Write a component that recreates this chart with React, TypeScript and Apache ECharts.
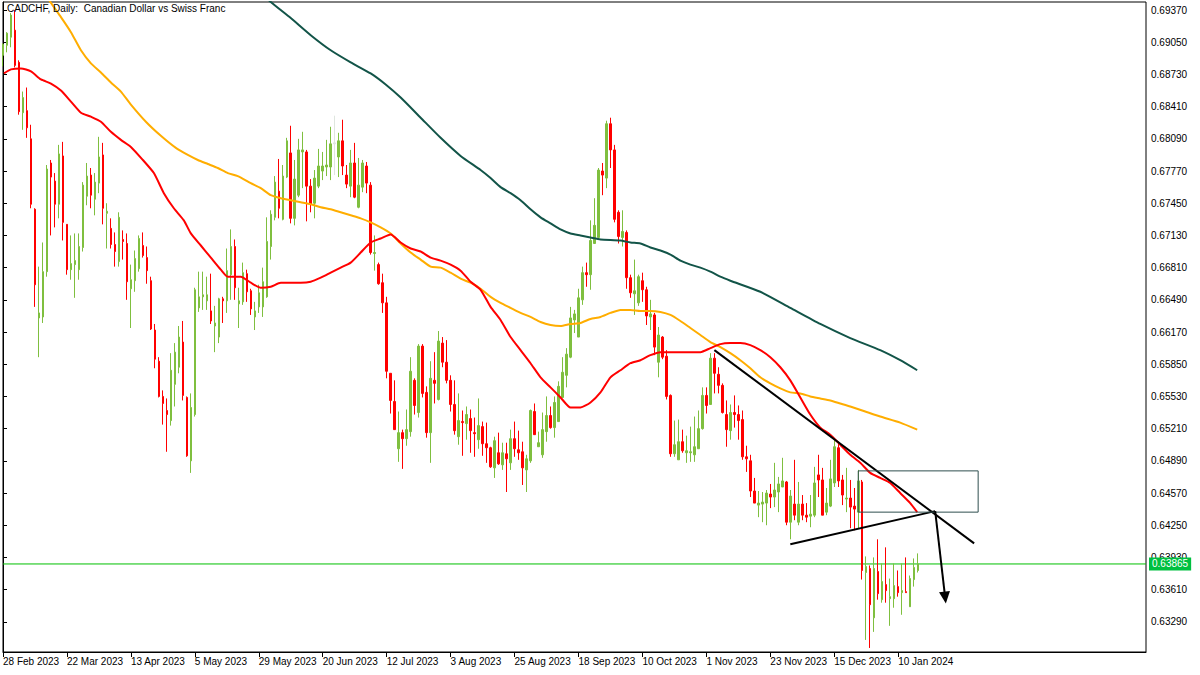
import React, { useEffect, useRef } from 'react';
import * as echarts from 'echarts';

const chartTitle = 'CADCHF, Daily:  Canadian Dollar vs Swiss Franc';
const MONTHS = ['Jan', 'Feb', 'Mar', 'Apr', 'May', 'Jun', 'Jul', 'Aug', 'Sep', 'Oct', 'Nov', 'Dec'];
const N_SLOTS = 287; // bars + empty space on the right
const CLOSED_DAYS = ['2023-12-25', '2024-01-01'];
const LABEL_STEP = 16;
const LAST_LABEL_INDEX = 224;

const priceTicks = [0.6937, 0.6905, 0.6873, 0.6841, 0.6809, 0.6777, 0.6745, 0.6713, 0.6681, 0.6649,
  0.6617, 0.6585, 0.6553, 0.6521, 0.6489, 0.6457, 0.6425, 0.6393, 0.6361, 0.6329];

const opens = [
  0.6892, 0.6902, 0.6910, 0.6917, 0.6885, 0.6835, 0.6837, 0.6809, 0.6739, 0.6631,
  0.6632, 0.6677, 0.6785, 0.6767, 0.6744, 0.6792, 0.6724, 0.6679, 0.6684, 0.6679,
  0.6701, 0.6752, 0.6773, 0.6749, 0.6765, 0.6793, 0.6735, 0.6720, 0.6704, 0.6687,
  0.6709, 0.6705, 0.6660, 0.6668, 0.6680, 0.6703, 0.6691, 0.6668, 0.6619, 0.6588,
  0.6553, 0.6539, 0.6529, 0.6565, 0.6582, 0.6607, 0.6552, 0.6489, 0.6535, 0.6641,
  0.6652, 0.6648, 0.6638, 0.6623, 0.6612, 0.6650, 0.6648, 0.6674, 0.6702, 0.6645,
  0.6647, 0.6675, 0.6658, 0.6632, 0.6642, 0.6642, 0.6652, 0.6702, 0.6731, 0.6757,
  0.6729, 0.6771, 0.6795, 0.6730, 0.6753, 0.6796, 0.6796, 0.6762, 0.6745, 0.6762,
  0.6777, 0.6781, 0.6781, 0.6804, 0.6791, 0.6807, 0.6773, 0.6762, 0.6785, 0.6741,
  0.6761, 0.6782, 0.6763, 0.6695, 0.6684, 0.6666, 0.6646, 0.6576, 0.6548, 0.6501,
  0.6517, 0.6511, 0.6518, 0.6569, 0.6537, 0.6603, 0.6557, 0.6517, 0.6569, 0.6550,
  0.6606, 0.6587, 0.6569, 0.6545, 0.6513, 0.6528, 0.6526, 0.6531, 0.6517, 0.6510,
  0.6523, 0.6506, 0.6502, 0.6482, 0.6497, 0.6485, 0.6496, 0.6487, 0.6511, 0.6500,
  0.6498, 0.6480, 0.6489, 0.6538, 0.6503, 0.6495, 0.6518, 0.6534, 0.6522, 0.6528,
  0.6552, 0.6574, 0.6592, 0.6629, 0.6612, 0.6649, 0.6676, 0.6674, 0.6705, 0.6711,
  0.6777, 0.6770, 0.6824, 0.6798, 0.6736, 0.6711, 0.6716, 0.6671, 0.6655, 0.6646,
  0.6668, 0.6659, 0.6632, 0.6634, 0.6587, 0.6612, 0.6593, 0.6554, 0.6496, 0.6490,
  0.6508, 0.6497, 0.6497, 0.6495, 0.6501, 0.6521, 0.6554, 0.6545, 0.6591, 0.6575,
  0.6564, 0.6535, 0.6519, 0.6537, 0.6535, 0.6530, 0.6493, 0.6489, 0.6459, 0.6445,
  0.6446, 0.6447, 0.6456, 0.6453, 0.6458, 0.6463, 0.6468, 0.6428, 0.6446, 0.6428,
  0.6446, 0.6435, 0.6434, 0.6435, 0.6475, 0.6470, 0.6438, 0.6444, 0.6467, 0.6502,
  0.6470, 0.6451, 0.6452, 0.6444, 0.6438, 0.6468, 0.6378, 0.6382, 0.6333, 0.6379,
  0.6351, 0.6366, 0.6352, 0.6352, 0.6364, 0.6358, 0.6359, 0.6344, 0.6371, 0.6380
];

const closes = [
  0.6903, 0.6914, 0.6932, 0.6882, 0.6836, 0.6850, 0.6820, 0.6744, 0.6664, 0.6636,
  0.6677, 0.6779, 0.6771, 0.6744, 0.6794, 0.6726, 0.6679, 0.6685, 0.6688, 0.6702,
  0.6763, 0.6772, 0.6753, 0.6766, 0.6791, 0.6740, 0.6737, 0.6704, 0.6697, 0.6731,
  0.6707, 0.6667, 0.6669, 0.6690, 0.6710, 0.6693, 0.6678, 0.6620, 0.6590, 0.6553,
  0.6546, 0.6535, 0.6579, 0.6597, 0.6612, 0.6554, 0.6494, 0.6542, 0.6659, 0.6652,
  0.6654, 0.6654, 0.6628, 0.6626, 0.6650, 0.6648, 0.6678, 0.6702, 0.6661, 0.6648,
  0.6676, 0.6657, 0.6640, 0.6638, 0.6656, 0.6667, 0.6707, 0.6734, 0.6766, 0.6740,
  0.6772, 0.6807, 0.6730, 0.6769, 0.6798, 0.6798, 0.6762, 0.6744, 0.6770, 0.6782,
  0.6782, 0.6783, 0.6804, 0.6805, 0.6807, 0.6782, 0.6764, 0.6785, 0.6751, 0.6763,
  0.6785, 0.6765, 0.6696, 0.6696, 0.6665, 0.6646, 0.6578, 0.6549, 0.6520, 0.6517,
  0.6511, 0.6520, 0.6578, 0.6544, 0.6603, 0.6556, 0.6517, 0.6571, 0.6566, 0.6608,
  0.6587, 0.6569, 0.6545, 0.6519, 0.6529, 0.6527, 0.6535, 0.6519, 0.6516, 0.6524,
  0.6506, 0.6502, 0.6483, 0.6509, 0.6486, 0.6497, 0.6491, 0.6511, 0.6501, 0.6497,
  0.6482, 0.6491, 0.6539, 0.6515, 0.6507, 0.6520, 0.6534, 0.6522, 0.6547, 0.6563,
  0.6577, 0.6595, 0.6631, 0.6635, 0.6651, 0.6676, 0.6674, 0.6708, 0.6723, 0.6778,
  0.6773, 0.6824, 0.6798, 0.6729, 0.6712, 0.6717, 0.6671, 0.6656, 0.6658, 0.6672,
  0.6659, 0.6633, 0.6635, 0.6602, 0.6614, 0.6592, 0.6553, 0.6496, 0.6505, 0.6508,
  0.6499, 0.6499, 0.6498, 0.6503, 0.6521, 0.6554, 0.6544, 0.6591, 0.6576, 0.6564,
  0.6537, 0.6520, 0.6537, 0.6535, 0.6529, 0.6493, 0.6491, 0.6459, 0.6447, 0.6447,
  0.6448, 0.6457, 0.6453, 0.6460, 0.6466, 0.6469, 0.6428, 0.6454, 0.6435, 0.6446,
  0.6435, 0.6433, 0.6436, 0.6467, 0.6470, 0.6435, 0.6447, 0.6471, 0.6503, 0.6469,
  0.6455, 0.6452, 0.6443, 0.6441, 0.6469, 0.6380, 0.6384, 0.6346, 0.6382, 0.6357,
  0.6369, 0.6360, 0.6354, 0.6365, 0.6358, 0.6360, 0.6358, 0.6372, 0.6383, 0.63865
];

const highs = [
  0.6904, 0.6915, 0.6934, 0.6937, 0.6887, 0.6856, 0.6860, 0.6823, 0.6740, 0.6682,
  0.6706, 0.6783, 0.6788, 0.6775, 0.6803, 0.6806, 0.6724, 0.6713, 0.6715, 0.6715,
  0.6766, 0.6785, 0.6780, 0.6775, 0.6811, 0.6805, 0.6745, 0.6730, 0.6716, 0.6736,
  0.6718, 0.6715, 0.6684, 0.6698, 0.6713, 0.6716, 0.6702, 0.6672, 0.6625, 0.6592,
  0.6559, 0.6551, 0.6596, 0.6606, 0.6623, 0.6628, 0.6553, 0.6556, 0.6661, 0.6677,
  0.6677, 0.6672, 0.6675, 0.6643, 0.6651, 0.6652, 0.6700, 0.6719, 0.6709, 0.6661,
  0.6686, 0.6679, 0.6660, 0.6647, 0.6664, 0.6681, 0.6731, 0.6738, 0.6772, 0.6789,
  0.6783, 0.6810, 0.6822, 0.6788, 0.6809, 0.6816, 0.6798, 0.6769, 0.6778, 0.6799,
  0.6796, 0.6808, 0.6821, 0.6832, 0.6815, 0.6828, 0.6783, 0.6798, 0.6805, 0.6790,
  0.6788, 0.6786, 0.6766, 0.6713, 0.6686, 0.6675, 0.6652, 0.6576, 0.6569, 0.6538,
  0.6520, 0.6540, 0.6592, 0.6571, 0.6605, 0.6605, 0.6563, 0.6588, 0.6597, 0.6618,
  0.6612, 0.6609, 0.6574, 0.6569, 0.6556, 0.6539, 0.6543, 0.6540, 0.6532, 0.6551,
  0.6528, 0.6527, 0.6503, 0.6513, 0.6517, 0.6507, 0.6507, 0.6520, 0.6528, 0.6519,
  0.6508, 0.6495, 0.6540, 0.6546, 0.6518, 0.6537, 0.6553, 0.6543, 0.6553, 0.6568,
  0.6592, 0.6601, 0.6642, 0.6639, 0.6660, 0.6682, 0.6686, 0.6728, 0.6750, 0.6780,
  0.6785, 0.6827, 0.6830, 0.6803, 0.6738, 0.6738, 0.6718, 0.6674, 0.6689, 0.6674,
  0.6676, 0.6662, 0.6649, 0.6636, 0.6622, 0.6613, 0.6599, 0.6555, 0.6529, 0.6530,
  0.6520, 0.6514, 0.6523, 0.6533, 0.6539, 0.6562, 0.6562, 0.6596, 0.6596, 0.6582,
  0.6566, 0.6549, 0.6545, 0.6554, 0.6544, 0.6539, 0.6504, 0.6495, 0.6472, 0.6459,
  0.6458, 0.6460, 0.6466, 0.6487, 0.6473, 0.6492, 0.6469, 0.6460, 0.6490, 0.6468,
  0.6455, 0.6447, 0.6455, 0.6483, 0.6495, 0.6482, 0.6462, 0.6490, 0.6510, 0.6508,
  0.6475, 0.6482, 0.6470, 0.6462, 0.6480, 0.6470, 0.6394, 0.6385, 0.6393, 0.6411,
  0.6387, 0.6403, 0.6372, 0.6387, 0.6380, 0.6387, 0.6393, 0.6375, 0.6392, 0.6397
];

const lows = [
  0.6881, 0.6895, 0.6900, 0.6880, 0.6833, 0.6818, 0.6810, 0.6740, 0.6642, 0.6592,
  0.6626, 0.6672, 0.6713, 0.6721, 0.6730, 0.6708, 0.6674, 0.6669, 0.6651, 0.6669,
  0.6697, 0.6743, 0.6740, 0.6733, 0.6755, 0.6724, 0.6700, 0.6700, 0.6682, 0.6682,
  0.6689, 0.6649, 0.6621, 0.6657, 0.6677, 0.6691, 0.6665, 0.6619, 0.6581, 0.6552,
  0.6525, 0.6498, 0.6524, 0.6543, 0.6576, 0.6549, 0.6493, 0.6477, 0.6533, 0.6637,
  0.6639, 0.6639, 0.6625, 0.6597, 0.6606, 0.6626, 0.6636, 0.6649, 0.6649, 0.6621,
  0.6644, 0.6647, 0.6634, 0.6619, 0.6636, 0.6632, 0.6651, 0.6689, 0.6728, 0.6730,
  0.6728, 0.6770, 0.6725, 0.6723, 0.6751, 0.6760, 0.6727, 0.6736, 0.6730, 0.6760,
  0.6768, 0.6772, 0.6768, 0.6773, 0.6771, 0.6773, 0.6760, 0.6751, 0.6750, 0.6740,
  0.6756, 0.6755, 0.6694, 0.6678, 0.6664, 0.6636, 0.6571, 0.6536, 0.6520, 0.6488,
  0.6481, 0.6504, 0.6513, 0.6535, 0.6532, 0.6552, 0.6512, 0.6487, 0.6546, 0.6549,
  0.6582, 0.6566, 0.6538, 0.6515, 0.6505, 0.6494, 0.6510, 0.6497, 0.6493, 0.6501,
  0.6494, 0.6487, 0.6482, 0.6472, 0.6485, 0.6480, 0.6458, 0.6480, 0.6493, 0.6490,
  0.6465, 0.6458, 0.6487, 0.6515, 0.6503, 0.6492, 0.6508, 0.6521, 0.6512, 0.6528,
  0.6552, 0.6562, 0.6591, 0.6616, 0.6612, 0.6644, 0.6662, 0.6659, 0.6705, 0.6710,
  0.6753, 0.6760, 0.6780, 0.6726, 0.6705, 0.6702, 0.6660, 0.6651, 0.6634, 0.6643,
  0.6647, 0.6624, 0.6619, 0.6594, 0.6572, 0.6590, 0.6550, 0.6493, 0.6493, 0.6490,
  0.6497, 0.6487, 0.6488, 0.6488, 0.6501, 0.6520, 0.6536, 0.6545, 0.6556, 0.6556,
  0.6536, 0.6503, 0.6510, 0.6522, 0.6510, 0.6490, 0.6478, 0.6453, 0.6447, 0.6433,
  0.6428, 0.6425, 0.6442, 0.6443, 0.6438, 0.6463, 0.6425, 0.6411, 0.6430, 0.6425,
  0.6430, 0.6428, 0.6423, 0.6433, 0.6453, 0.6435, 0.6435, 0.6443, 0.6463, 0.6463,
  0.6445, 0.6438, 0.6422, 0.6420, 0.6422, 0.6371, 0.6311, 0.6303, 0.6319, 0.6351,
  0.6348, 0.6348, 0.6325, 0.6343, 0.6354, 0.6336, 0.6358, 0.6344, 0.6364, 0.6378
];

const paleBarIndex = 83;

// moving averages: [bar index, price]
const maRed: [number, number][] = [
  [0.25, 0.6874], [2, 0.6878], [4.5, 0.6879], [7, 0.6876], [9.5, 0.6868], [12, 0.6864], [14.5, 0.6857],
  [17, 0.6846], [19.5, 0.6835], [22, 0.6831], [24.5, 0.6826], [27, 0.6816], [29.5, 0.6808], [32, 0.6801],
  [35, 0.6788], [37.75, 0.6775], [40.25, 0.6755], [42.75, 0.6740], [45.25, 0.6728], [47, 0.6715],
  [49.5, 0.6703], [52, 0.6691], [54.5, 0.6679], [56.25, 0.6672], [59.5, 0.6672], [62, 0.6666],
  [64.5, 0.6661], [67, 0.6662], [69.5, 0.6666], [74.5, 0.6666], [77, 0.6667], [79.5, 0.6671],
  [82, 0.6676], [84.5, 0.6681], [87, 0.6686], [89.5, 0.6696], [92, 0.6706], [94.5, 0.6710],
  [97, 0.6714], [99.5, 0.6706], [102, 0.6700], [104.5, 0.6697], [107, 0.6691], [109.5, 0.6688],
  [112, 0.6684], [114.5, 0.6678], [117, 0.6667], [119.5, 0.6659], [122, 0.6642], [124.5, 0.6629],
  [127, 0.6612], [129.5, 0.6599], [132, 0.6586], [134.5, 0.6572], [137, 0.6562], [139.5, 0.6552],
  [142, 0.6542], [144.5, 0.6542], [147, 0.6547], [149.5, 0.6557], [152, 0.6572], [154.5, 0.6579],
  [157, 0.6586], [159.5, 0.6589], [162, 0.6594], [164.5, 0.6597], [167, 0.6597], [174.5, 0.6597],
  [177, 0.6601], [179.5, 0.6605], [182, 0.6606], [184.5, 0.6606], [187, 0.6604], [189.5, 0.6599],
  [192, 0.6592], [194.5, 0.6582], [197, 0.6569], [199.5, 0.6552], [202, 0.6535], [204.5, 0.6522],
  [207, 0.6515], [209.5, 0.6505], [212, 0.6495], [214.5, 0.6487], [217, 0.6477], [219.5, 0.6472],
  [222, 0.6467], [224.5, 0.6457], [227, 0.6447], [228.75, 0.6438]
];

const maOrange: [number, number][] = [
  [7, 0.6976], [11.5, 0.6947], [14.5, 0.6930], [17, 0.6915], [19.5, 0.6897], [22, 0.6884],
  [24.5, 0.6875], [27, 0.6865], [29.5, 0.6856], [32, 0.6843], [35.75, 0.6826], [39.5, 0.6812],
  [43.25, 0.6800], [46.25, 0.6793], [48.75, 0.6788], [51.25, 0.6784], [53.75, 0.6780], [56.25, 0.6775],
  [58.75, 0.6772], [62, 0.6765], [64.5, 0.6760], [67, 0.6753], [69.5, 0.6750], [72, 0.6748],
  [74.5, 0.6746], [77, 0.6744], [79.5, 0.6741], [82, 0.6739], [84.5, 0.6736], [87, 0.6733],
  [89.5, 0.6730], [92, 0.6726], [94.5, 0.6721], [97, 0.6715], [99.5, 0.6705], [102, 0.6696],
  [104.5, 0.6689], [107, 0.6682], [109.5, 0.6681], [112, 0.6676], [114.5, 0.6670], [117, 0.6666],
  [119.5, 0.6660], [122, 0.6652], [124.5, 0.6646], [127, 0.6641], [129.5, 0.6636], [132, 0.6632],
  [134.5, 0.6627], [137, 0.6624], [139.5, 0.6623], [142, 0.6625], [144.5, 0.6626], [147, 0.6630],
  [149.5, 0.6632], [152, 0.6636], [154.5, 0.6639], [157, 0.6639], [159.5, 0.6638], [162, 0.6638],
  [164.5, 0.6637], [167, 0.6634], [169.5, 0.6628], [172, 0.6621], [174.5, 0.6614], [177, 0.6607],
  [179.5, 0.6602], [182, 0.6596], [184.5, 0.6589], [187, 0.6581], [189.5, 0.6572], [192, 0.6566],
  [194.5, 0.6561], [197, 0.6557], [199.5, 0.6556], [202, 0.6553], [204.5, 0.6551], [207, 0.6549],
  [209.5, 0.6546], [212, 0.6543], [215.75, 0.6538], [219.5, 0.6533], [224.5, 0.6527], [228.75, 0.6520]
];

const maGreen: [number, number][] = [
  [63.25, 0.6959], [67, 0.6945], [72, 0.6929], [77, 0.6912], [82, 0.6897], [87, 0.6885],
  [92, 0.6874], [95.75, 0.6863], [99.5, 0.6850], [104.5, 0.6830], [109.5, 0.6810], [114.5, 0.6792],
  [119.5, 0.6778], [122, 0.6770], [124.5, 0.6761], [127, 0.6755], [129.5, 0.6748], [132, 0.6739],
  [134.5, 0.6731], [137, 0.6725], [139.5, 0.6719], [142, 0.6715], [144.5, 0.6713], [147, 0.6711],
  [149.5, 0.6709], [154.5, 0.6708], [157, 0.6706], [159.5, 0.6705], [162, 0.6701], [164.5, 0.6698],
  [167, 0.6694], [169.5, 0.6688], [172, 0.6684], [174.5, 0.6681], [177, 0.6677], [179.5, 0.6672],
  [182, 0.6668], [189.5, 0.6657], [197, 0.6641], [204.5, 0.6625], [212, 0.6611], [219.5, 0.6599],
  [224.5, 0.6589], [228.75, 0.6579]
];

// hand-drawn annotations: [bar index, price]
const upperTrend: [number, number][] = [[178, 0.6599], [243, 0.6407]];
const lowerTrend: [number, number][] = [[197, 0.6406], [233.25, 0.6439]];
const arrowFrom: [number, number] = [233.25, 0.6439];
const arrowTo: [number, number] = [235.75, 0.6353];
const boxX: [number, number] = [214, 244];
const boxY: [number, number] = [0.6438, 0.6479];

function buildDates(): string[] {
  const out: string[] = [];
  const d = new Date(Date.UTC(2023, 1, 28));
  while (out.length < N_SLOTS) {
    const wd = d.getUTCDay();
    const iso = d.toISOString().slice(0, 10);
    if (wd !== 0 && wd !== 6 && !CLOSED_DAYS.includes(iso)) {
      out.push(`${d.getUTCDate()} ${MONTHS[d.getUTCMonth()]} ${d.getUTCFullYear()}`);
    }
    d.setUTCDate(d.getUTCDate() + 1);
  }
  return out;
}

const FONT = 'Liberation Sans, Arial, sans-serif';

export default function App() {
  const ref = useRef<HTMLDivElement>(null);
  useEffect(() => {
    if (!ref.current) return;
    const chart = echarts.init(ref.current, undefined, { renderer: 'svg' });
    const dates = buildDates();
    const lastClose = closes[closes.length - 1];
    const candleData = opens.map((o, i) => {
      const v = [o, closes[i], lows[i], highs[i]];
      if (i === paleBarIndex) {
        return { value: v, itemStyle: { color: '#dfe6df', color0: '#dfe6df', borderColor: '#dfe6df', borderColor0: '#dfe6df' } };
      }
      return v;
    });
    const showLabel = (i: number) => i % LABEL_STEP === 0 && i <= LAST_LABEL_INDEX;
    const maLine = (data: [number, number][], color: string) => ({
      type: 'line', xAxisIndex: 1, yAxisIndex: 0, data, showSymbol: false, symbol: 'none',
      smooth: 0.2, clip: true, silent: true,
      lineStyle: { color, width: 2 }, z: 3,
    });
    const plainLine = (data: [number, number][], color: string, width: number, z = 4) => ({
      type: 'line', xAxisIndex: 1, yAxisIndex: 0, data, showSymbol: false, symbol: 'none',
      clip: true, silent: true, lineStyle: { color, width }, z,
    });
    const option: any = {
      animation: false,
      backgroundColor: '#ffffff',
      grid: { left: 2, top: 2, width: 1144, height: 650, show: true, borderColor: '#000', borderWidth: 1, backgroundColor: '#fff' },
      graphic: [
        { type: 'text', left: 7, top: 3, z: 100, style: { text: chartTitle, font: `10px ${FONT}`, fill: '#000' } },
      ],
      xAxis: [
        {
          type: 'category', data: dates, boundaryGap: false, position: 'bottom',
          axisLine: { show: true, lineStyle: { color: '#000', width: 1 } },
          axisTick: { show: true, interval: (i: number) => showLabel(i), length: 5, lineStyle: { color: '#000' } },
          axisLabel: {
            show: true, interval: (i: number) => showLabel(i), align: 'left', margin: 4,
            color: '#000', fontSize: 10, fontFamily: FONT,
          },
          splitLine: { show: false },
        },
        { type: 'value', min: 0, max: N_SLOTS - 1, show: false, splitLine: { show: false } },
      ],
      yAxis: [
        {
          type: 'value', position: 'right', min: 0.6299, max: 0.6945, scale: true,
          axisLine: { show: true, lineStyle: { color: '#000' } },
          axisTick: { show: true, length: 4, customValues: priceTicks, lineStyle: { color: '#000' } },
          axisLabel: {
            show: true, customValues: priceTicks, margin: 5, color: '#000', fontSize: 10, fontFamily: FONT,
            formatter: (v: number) => v.toFixed(5),
          },
          splitLine: { show: false },
        },
      ],
      series: [
        maLine(maGreen, '#125448'),
        maLine(maOrange, '#ffad00'),
        maLine(maRed, '#ff0000'),
        {
          type: 'candlestick', xAxisIndex: 0, yAxisIndex: 0, data: candleData, barWidth: 2, z: 2,
          itemStyle: { color: '#7fbf3f', color0: '#ff0000', borderColor: '#7fbf3f', borderColor0: '#ff0000', borderWidth: 1 },
        },
        {
          type: 'line', xAxisIndex: 1, yAxisIndex: 0, data: [[0, lastClose], [N_SLOTS - 1, lastClose]],
          showSymbol: false, symbol: 'none', silent: true, clip: false, z: 1,
          lineStyle: { color: '#00c000', width: 1 },
          endLabel: {
            show: true, formatter: lastClose.toFixed(5), distance: 3,
            backgroundColor: '#00c040', color: '#fff', padding: [2, 3, 1, 3], fontSize: 10, fontFamily: FONT,
          },
        },
        plainLine(upperTrend, '#000', 2),
        plainLine(lowerTrend, '#000', 2),
        plainLine([[boxX[0], boxY[0]], [boxX[1], boxY[0]], [boxX[1], boxY[1]], [boxX[0], boxY[1]], [boxX[0], boxY[0]]], '#2f4f4f', 1),
        {
          type: 'line', xAxisIndex: 1, yAxisIndex: 0, data: [], silent: true,
          markLine: {
            silent: true, symbol: ['none', 'triangle'], symbolSize: [11, 12], animation: false,
            lineStyle: { color: '#000', width: 2, type: 'solid' }, label: { show: false },
            data: [[{ coord: arrowFrom }, { coord: arrowTo }]],
          },
        },
      ],
    };
    chart.setOption(option);
    return () => chart.dispose();
  }, []);
  return <div ref={ref} style={{ position: 'fixed', left: 0, top: 0, width: 1200, height: 675, background: '#fff' }} />;
}
